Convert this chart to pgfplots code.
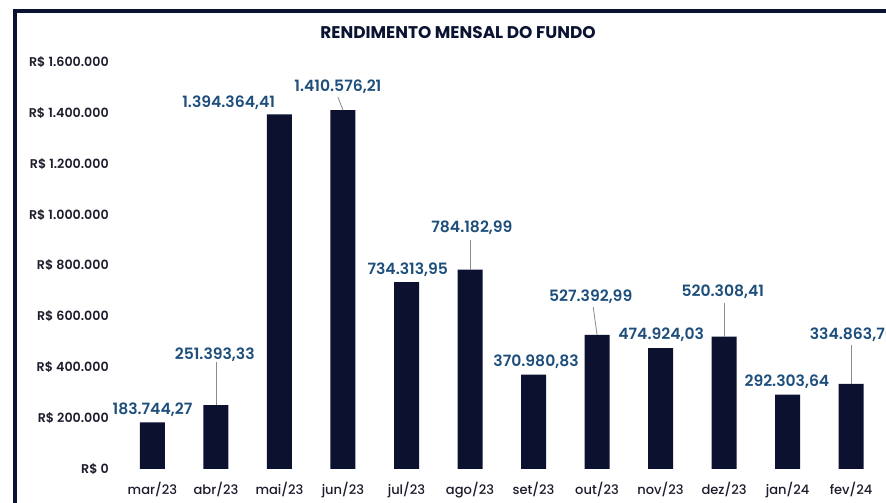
\documentclass[border=0pt]{standalone}
\usepackage{fontspec}
\setmainfont{Poppins}
\newfontfamily\popmed{Poppins Medium}
\newfontfamily\popsemi{Poppins SemiBold}
\usepackage{pgfplots}
\pgfplotsset{compat=1.18}
\usepackage{pgfplotstable}

\definecolor{barnavy}{HTML}{0C1130}
\definecolor{lblblue}{HTML}{1D4E7C}
\definecolor{tickdark}{HTML}{1C1C2C}
\definecolor{framenavy}{HTML}{0A1432}
\definecolor{leader}{HTML}{8A8A8A}

% monthly return, R$
\pgfplotstableread{
x  y
0  183744.27
1  251393.33
2  1394364.41
3  1410576.21
4  734313.95
5  784182.99
6  370980.83
7  527392.99
8  474924.03
9  520308.41
10 292303.64
11 334863.76
}\rendimento

\begin{document}
\begin{tikzpicture}[x=0.75pt,y=0.75pt]
% picture is 886 x 503 px, y measured from the bottom
\path[use as bounding box] (0,0) rectangle (886,503);

\draw[framenavy, line width=3pt] (13,491.5) -- (900,491.5);
\draw[framenavy, line width=3pt] (15,493) -- (15,-10);

\node[font=\fontsize{12.7}{14}\bfseries, text=framenavy] at (458,470) {RENDIMENTO MENSAL DO FUNDO};

\begin{axis}[
  at={(86.25pt,25.5pt)}, anchor=south west,
  scale only axis,
  width=578.25pt, height=305.25pt,
  xmin=-0.59, xmax=11.55,
  ymin=0, ymax=1600000,
  axis line style={draw=none},
  major tick style={draw=none},
  clip=false,
  xtick={0,...,11},
  xticklabels={mar/23,abr/23,mai/23,jun/23,jul/23,ago/23,set/23,out/23,nov/23,dez/23,jan/24,fev/24},
  xticklabel style={font=\popmed\fontsize{9.8}{11}\selectfont, text=tickdark, anchor=base, inner sep=0pt, yshift=-19.5pt},
  ytick={0,200000,...,1600000},
  yticklabels={R\$ 0,R\$ 200.000,R\$ 400.000,R\$ 600.000,R\$ 800.000,R\$ 1.000.000,R\$ 1.200.000,R\$ 1.400.000,R\$ 1.600.000},
  yticklabel style={font=\popsemi\fontsize{9.5}{11}\selectfont, text=tickdark, anchor=east, inner sep=0pt, xshift=-4.5pt},
  scaled y ticks=false,
]
\addplot[ybar, bar width=18.75pt, fill=barnavy, draw=none] table[x=x, y=y] {\rendimento};

% leader lines
\draw[leader, line width=0.6pt] (axis cs:1,420639) -- (axis cs:1,251393.33);
\draw[leader, line width=0.6pt] (axis cs:2.92,1462408) -- (axis cs:3,1410576.21);
\draw[leader, line width=0.6pt] (axis cs:5,900245) -- (axis cs:5,784182.99);
\draw[leader, line width=0.6pt] (axis cs:6.94,636855) -- (axis cs:7,527392.99);
\draw[leader, line width=0.6pt] (axis cs:9,652580) -- (axis cs:9,520308.41);
\draw[leader, line width=0.6pt] (axis cs:11,487469) -- (axis cs:11,334863.76);

% value labels
\begin{scope}[every node/.style={font=\popsemi\fontsize{11.7}{14}\selectfont, text=lblblue, inner sep=0pt}]
\node at (axis cs:0,231941) {183.744,27};
\node at (axis cs:0.98,448157) {251.393,33};
\node at (axis cs:1.20,1438821) {1.394.364,41};
\node at (axis cs:2.92,1501720) {1.410.576,21};
\node at (axis cs:4.02,782310) {734.313,95};
\node at (axis cs:5.03,947420) {784.182,99};
\node at (axis cs:6.04,420639) {370.980,83};
\node at (axis cs:6.90,676167) {527.392,99};
\node at (axis cs:8.01,526781) {474.924,03};
\node at (axis cs:8.98,695823) {520.308,41};
\node at (axis cs:9.99,342015) {292.303,64};
\node at (axis cs:11.02,526781) {334.863,76};
\end{scope}
\end{axis}
\end{tikzpicture}
\end{document}
